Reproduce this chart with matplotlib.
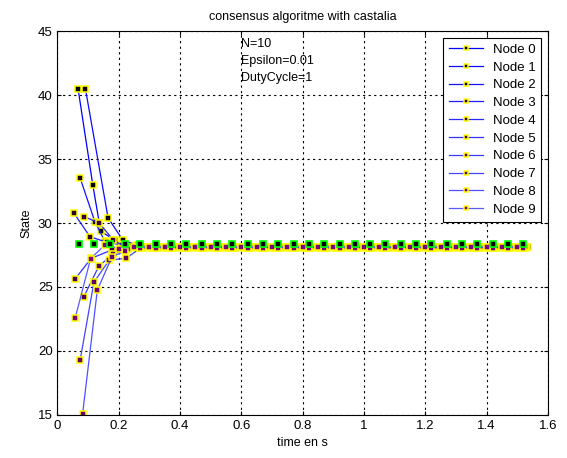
import numpy as np
import matplotlib.pyplot as plt

plt.rcParams['font.family'] = ['Liberation Sans', 'DejaVu Sans']

# early (transient) samples of every node: time [s] and state
node_t = [
    [0.067, 0.115, 0.141, 0.187, 0.235],
    [0.091, 0.165, 0.213, 0.260],
    [0.074, 0.122, 0.154, 0.207],
    [0.054, 0.106, 0.160, 0.210],
    [0.087, 0.137, 0.182, 0.224],
    [0.058, 0.110, 0.178, 0.230],
    [0.086, 0.135, 0.182, 0.230],
    [0.074, 0.119, 0.169, 0.224],
    [0.082, 0.130, 0.178, 0.220],
    [0.058, 0.108, 0.155, 0.200],
]
node_s = [
    [40.5, 33.0, 29.35, 28.67, 28.2],
    [40.5, 30.4, 28.67, 28.25],
    [33.5, 30.1, 28.6, 28.3],
    [30.76, 28.93, 28.5, 28.3],
    [30.5, 29.98, 28.67, 28.1],
    [25.65, 27.24, 27.9, 28.0],
    [24.24, 26.64, 27.58, 28.0],
    [19.3, 25.39, 27.1, 27.24],
    [15.1, 24.77, 27.37, 27.8],
    [22.6, 27.21, 28.3, 28.0],
]
# value every node settles on, and the end of the run
settled = [28.12, 28.1, 28.08, 28.1, 28.12, 28.08, 28.1, 28.1, 28.08, 28.12]
t_end = 1.545
step = 0.05

# reference: mean of the initial states
mean_t0 = 0.07
mean_val = 28.35

labels = ['Node %d' % i for i in range(10)]

fig = plt.figure(figsize=(5.67, 4.58), dpi=100)
ax = fig.add_axes([0.1014, 0.0939, 0.865, 0.8384])

for i in range(10):
    tail_t = np.arange(node_t[i][-1] + step, t_end, step)
    t = np.concatenate([node_t[i], tail_t])
    s = np.concatenate([node_s[i], np.full(len(tail_t), settled[i])])
    k = i / 9.0
    ax.plot(t, s, '-s', color=(0.35 * k, 0.35 * k, 1.0), lw=0.9,
            markersize=4.2, markerfacecolor=(0.5 * k, 0, 0.5 * k),
            markeredgecolor='yellow', markeredgewidth=1.1, label=labels[i])

mean_t = np.arange(mean_t0, t_end, step)
ax.plot(mean_t, np.full(len(mean_t), mean_val), 's', markersize=4.8,
        markerfacecolor='black', markeredgecolor='#00ff00', markeredgewidth=1.2)

ax.text(0.6, 44.0, 'N=10', fontsize=9, va='center')
ax.text(0.6, 42.65, 'Epsilon=0.01', fontsize=9, va='center')
ax.text(0.6, 41.35, 'DutyCycle=1', fontsize=9, va='center')

ax.set_xlim(0, 1.6)
ax.set_ylim(15, 45)
ax.set_xticks(np.arange(0, 1.61, 0.2))
ax.set_xticklabels(['0', '0.2', '0.4', '0.6', '0.8', '1', '1.2', '1.4', '1.6'])
ax.set_yticks(np.arange(15, 46, 5))
ax.tick_params(direction='in', top=True, right=True, labelsize=9.5, length=3)
ax.grid(True, color='black', linestyle=(0, (2, 3)), linewidth=0.8)
for sp in ax.spines.values():
    sp.set_linewidth(0.8)

ax.set_title('consensus algoritme with castalia', fontsize=9, pad=8)
ax.set_xlabel('time en s', fontsize=9)
ax.set_ylabel('State', fontsize=9)

leg = ax.legend(loc='upper right', fontsize=9.5, fancybox=False, framealpha=1,
                edgecolor='black', labelspacing=0.42, handlelength=2.6,
                handletextpad=0.7, borderaxespad=0.5, borderpad=0.45,
                markerscale=0.75)
leg.get_frame().set_linewidth(0.8)

fig.savefig('out.png', dpi=100)
